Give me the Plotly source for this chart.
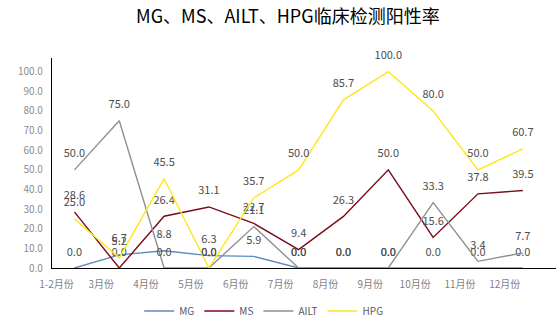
import plotly.graph_objects as go

months = ["1-2月份", "3月份", "4月份", "5月份", "6月份", "7月份",
          "8月份", "9月份", "10月份", "11月份", "12月份"]

mg = [0.0, 6.7, 8.8, 6.3, 5.9, 0.0, 0.0, 0.0, 0.0, 0.0, 0.0]
ms = [28.6, 0.0, 26.4, 31.1, 22.7, 9.4, 26.3, 50.0, 15.6, 37.8, 39.5]
ailt = [50.0, 75.0, 0.0, 0.0, 21.1, 0.0, 0.0, 0.0, 33.3, 3.4, 7.7]
hpg = [25.0, 5.2, 45.5, 0.0, 35.7, 50.0, 85.7, 100.0, 80.0, 50.0, 60.7]

series = [
    ("MG", mg, "#5a8cc0"),
    ("MS", ms, "#7a0a1c"),
    ("AILT", ailt, "#8f8f8f"),
    ("HPG", hpg, "#ffe61a"),
]

FONT = "Noto Sans CJK SC"

fig = go.Figure()
for name, vals, color in series:
    fig.add_trace(go.Scatter(
        x=months, y=vals, name=name,
        mode="lines+markers+text",
        line=dict(color=color, width=1.4),
        # invisible markers only serve to lift the value labels off the line
        marker=dict(size=14, color="rgba(0,0,0,0)", line=dict(width=0)),
        text=[f"{v:.1f}" for v in vals],
        textposition="top center",
        textfont=dict(family=FONT, size=11, color="#4d4d4d"),
        cliponaxis=False,
        hoverinfo="x+y+name",
    ))

fig.update_layout(
    width=556, height=331,
    margin=dict(l=52, r=0, t=58, b=63),
    paper_bgcolor="white",
    plot_bgcolor="white",
    font=dict(family=FONT, color="#595959"),
    title=dict(
        text="MG、MS、AILT、HPG临床检测阳性率",
        font=dict(family=FONT, size=18, color="#000000"),
        x=0.468, xref="paper", xanchor="center",
        y=0.949, yref="container", yanchor="middle",
    ),
    showlegend=True,
    legend=dict(
        orientation="h",
        x=0.42, xanchor="center",
        y=-0.205, yanchor="middle",
        font=dict(family=FONT, size=10, color="#595959"),
        itemwidth=30,
        traceorder="normal",
    ),
)

fig.update_xaxes(
    type="category",
    range=[-0.5, 10.74],
    showline=True, linecolor="#000000", linewidth=1.4,
    showgrid=False, zeroline=False,
    ticks="",
    tickfont=dict(family=FONT, size=10, color="#7f7f7f"),
    ticklabelshift=-18,
    ticklabelstandoff=7,
)

fig.update_yaxes(
    range=[0, 107],
    tickvals=[0, 10, 20, 30, 40, 50, 60, 70, 80, 90, 100],
    tickformat=".1f",
    showline=True, linecolor="#000000", linewidth=1.2,
    showgrid=False, zeroline=False,
    ticks="",
    ticklabelstandoff=6,
    tickfont=dict(family=FONT, size=10, color="#8c8c8c"),
)

fig.write_html("out.html")
